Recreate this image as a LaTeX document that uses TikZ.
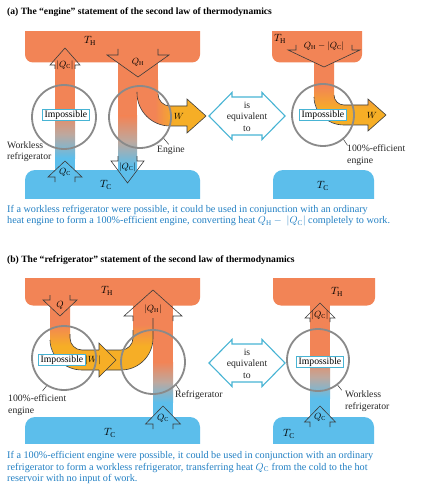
\documentclass[tikz,border=0pt]{standalone}
\usepackage{fix-cm}
\usepackage{fontspec}
\setmainfont{Liberation Serif}
\definecolor{hotC}{RGB}{242,132,86}
\definecolor{coldC}{RGB}{92,190,235}
\definecolor{wC}{RGB}{246,174,38}
\definecolor{midC}{RGB}{190,168,158}
\definecolor{ringC}{RGB}{138,138,138}
\definecolor{cyanC}{RGB}{72,180,212}
\definecolor{capC}{RGB}{34,128,196}
\definecolor{lineC}{RGB}{60,60,60}
\pgfdeclarehorizontalshading{wshadeL}{100bp}{color(0bp)=(hotC); color(38bp)=(hotC); color(52bp)=(wC); color(100bp)=(wC)}
\pgfdeclareverticalshading{wshadeA}{100bp}{color(0bp)=(wC); color(40bp)=(wC); color(57bp)=(hotC); color(100bp)=(hotC)}
\pgfdeclareverticalshading{wshadeB}{100bp}{color(0bp)=(wC); color(43bp)=(wC); color(59bp)=(hotC); color(100bp)=(hotC)}
\newcommand\lblfont{\fontsize{9.7}{11.5}\selectfont}
\newcommand\mlblfont{\fontsize{9}{10}\selectfont}
\newcommand\tlblfont{\fontsize{10.5}{12}\selectfont}
\newcommand\capfont{\fontsize{10.2}{11.3}\selectfont}
\newcommand\ttlfont{\fontsize{9.6}{11}\selectfont\bfseries}
\newcommand\myhead[6]{\draw[headln] (#1-#5,#6) -- (#1-#5,#2) -- (#1-#4,#2) -- (#1,#3) -- (#1+#4,#2) -- (#1+#5,#2) -- (#1+#5,#6);}
\newcommand\eqarrow[1]{\draw[eqv] (209,#1) -- (232,#1-23.5) -- (232,#1-19) -- (262,#1-19) -- (262,#1-23.5) -- (285,#1) -- (262,#1+23.5) -- (262,#1+19) -- (232,#1+19) -- (232,#1+23.5) -- cycle;}
\tikzset{
 headln/.style={draw=lineC, line width=0.6pt, line join=miter},
 wln/.style={draw=lineC, line width=0.6pt},
 ring/.style={circle, draw=ringC, line width=1.8pt, inner sep=0pt},
 imp/.style={draw=cyanC, fill=white, line width=0.6pt, inner xsep=2pt, inner ysep=1.2pt, font=\lblfont},
 lbl/.style={font=\lblfont, inner sep=0pt, text=black!85},
 mlbl/.style={font=\mlblfont, inner sep=0pt},
 tlbl/.style={font=\tlblfont, inner sep=0pt},
 captxt/.style={font=\capfont, text=capC, inner sep=0pt, align=left},
 ttl/.style={font=\ttlfont, inner sep=0pt},
 eqv/.style={draw=cyanC, fill=white, line width=1.1pt, line join=miter},
 leader/.style={draw=black!80, line width=0.5pt},
}
\begin{document}
\begin{tikzpicture}[x=1pt,y=-1pt]
\useasboundingbox (0,0) rectangle (421,497);
\fill[white] (0,0) rectangle (421,497);

% ================= PANEL (a) =================
\node[ttl, anchor=west] (ttlA) at (7,12) {(a) The “engine” statement of the second law of thermodynamics};

% --- left: reservoirs
\begin{scope}\clip (25,32) rectangle (200,62.5);
\fill[hotC, rounded corners=8pt] (25,20) rectangle (200,62.5);\end{scope}
\begin{scope}\clip (25,170) rectangle (200,198);
\fill[coldC, rounded corners=10pt] (25,170) rectangle (200,210);\end{scope}

% workless refrigerator column
\fill[hotC] (55,60) rectangle (75,110);
\shade[top color=hotC, bottom color=coldC, middle color=midC] (55,110) rectangle (75,158);
\fill[coldC] (55,158) rectangle (75,172);

% engine column
\fill[hotC] (118,60) rectangle (158,81);
\fill[hotC] (118,80) rectangle (137,116);
\shade[top color=hotC, bottom color=coldC, middle color=midC] (118,116) rectangle (137,166);
\fill[coldC] (118,166) rectangle (137,172);
\shade[shading=wshadeL] (137,80) -- (137,93) .. controls (137,111.2) and (151.8,126) .. (170,126) -- (187,126) -- (187,133) -- (206,116) -- (187,99) -- (187,106) -- (170,106) .. controls (163.4,106) and (158,100.6) .. (158,94) -- (158,80) -- cycle;
\draw[wln] (137,92) -- (137,93) .. controls (137,111.2) and (151.8,126) .. (170,126) -- (187,126) -- (187,133) -- (206,116) -- (187,99) -- (187,106) -- (170,106) .. controls (163.4,106) and (158,100.6) .. (158,94);

% arrow heads
\myhead{138}{55}{77}{31}{20}{49}
\myhead{65}{65}{48}{15}{10}{69}
\myhead{127.5}{161}{183}{16.5}{9.5}{156}
\myhead{65}{177}{161}{17}{10}{182}

\node[mlbl] (qhA) at (138,62) {$Q_{\mathrm{H}}$};
\node[mlbl] (qcA1) at (65,65) {$|Q_{\mathrm{C}}|$};
\node[mlbl] (qcA2) at (127.5,167) {$|Q_{\mathrm{C}}|$};
\node[mlbl] (qcA3) at (65,172) {$Q_{\mathrm{C}}$};
\node[mlbl] (wA) at (179,116) {$W$};
\node[tlbl] (thA) at (90,41) {$T_{\mathrm{H}}$};
\node[tlbl] (tcA) at (106,185) {$T_{\mathrm{C}}$};

\node[ring, minimum size=64pt] (cA1) at (64,117) {};
\node[ring, minimum size=62pt] (cA2) at (140,117) {};
\node[imp] (impA1) at (66,115) {Impossible};

\node[lbl, anchor=west, align=left] (wrA) at (7,151.5) {Workless\\refrigerator};
\node[lbl, anchor=west] (engA) at (157,150) {Engine};
\draw[leader] (cA2.-42) -- ++(5,6);

% --- middle
\eqarrow{116}
\node[lbl, align=center] (eqA) at (247,116.5) {is\\equivalent\\to};

% --- right
\begin{scope}\clip (272,32) rectangle (362,62.5);
\fill[hotC, rounded corners=8pt] (272,20) rectangle (362,62.5);\end{scope}
\begin{scope}\clip (273,170) rectangle (374,198);
\fill[coldC, rounded corners=10pt] (273,170) rectangle (374,210);\end{scope}
\shade[shading=wshadeA] (314,60) -- (314,95) .. controls (314,111.6) and (327.4,125) .. (344,125) -- (368,125) -- (368,131) -- (386,115) -- (368,99) -- (368,105) -- (344,105) .. controls (338.5,105) and (334,100.5) .. (334,95) -- (334,60) -- cycle;
\draw[wln] (314,97) .. controls (314,112.5) and (327.4,125) .. (344,125) -- (368,125) -- (368,131) -- (386,115) -- (368,99) -- (368,105) -- (344,105) .. controls (338.5,105) and (334,100.5) .. (334,95);
\myhead{324}{50}{67}{36}{28}{45}
\node[mlbl] (qhcA) at (324,46.5) {$Q_{\mathrm{H}} - |Q_{\mathrm{C}}|$};
\node[tlbl] (thA2) at (280,39) {$T_{\mathrm{H}}$};
\node[tlbl] (tcA2) at (323,186) {$T_{\mathrm{C}}$};
\node[mlbl] (wA2) at (372,115) {$W$};
\node[ring, minimum size=62pt] (cA3) at (323,115) {};
\node[imp] (impA2) at (323,115) {Impossible};
\node[lbl, anchor=west, align=left] (effA) at (347,155) {100\%-efficient\\engine};
\draw[leader] (cA3.-50) -- ++(4,6);

\node[captxt, anchor=north west] (capA) at (7,205) {If a workless refrigerator were possible, it could be used in conjunction with an ordinary\\heat engine to form a 100\%-efficient engine, converting heat $Q_{\mathrm{H}} -\ |Q_{\mathrm{C}}|$ completely to work.};

% ================= PANEL (b) =================
\node[ttl, anchor=west] (ttlB) at (7,260) {(b) The “refrigerator” statement of the second law of thermodynamics};

\begin{scope}\clip (25,278) rectangle (200,305.5);
\fill[hotC, rounded corners=8pt] (25,266) rectangle (200,305.5);\end{scope}
\begin{scope}\clip (25,417) rectangle (200,443);
\fill[coldC, rounded corners=10pt] (25,417) rectangle (200,455);\end{scope}

% refrigerator cold part
\fill[hotC] (153,303) rectangle (173,362);
\shade[top color=hotC, bottom color=coldC, middle color=midC] (153,362) rectangle (173,402);
\fill[coldC] (153,402) rectangle (173,419);
% engine + work band
\shade[shading=wshadeB] (50,303) -- (50,338) .. controls (50,355.7) and (64.3,370) .. (82,370) -- (121,370) .. controls (138.7,370) and (153,355.7) .. (153,338) -- (153,303) -- (133,303) -- (133,338) .. controls (133,344.6) and (127.6,350) .. (121,350) -- (82,350) .. controls (75.4,350) and (70,344.6) .. (70,338) -- (70,303) -- cycle;
\draw[wln] (153,318) -- (153,338) .. controls (153,355.7) and (138.7,370) .. (121,370) -- (82,370) .. controls (64.3,370) and (50,355.7) .. (50,340);
\draw[wln] (70,334) -- (70,338) .. controls (70,344.6) and (75.4,350) .. (82,350) -- (121,350) .. controls (127.6,350) and (133,344.6) .. (133,338) -- (133,330);
\filldraw[fill=wC, draw=lineC, line width=0.6pt, line join=miter] (99,350) -- (99,343) -- (116,360) -- (99,377) -- (99,370);

\myhead{60}{300}{316}{17}{10}{295}
\myhead{153}{316}{290}{29}{20}{321}
\myhead{163}{424}{406}{17.5}{10}{429}

\node[mlbl] (qB) at (60,305) {$Q$};
\node[mlbl] (qhB) at (153,309) {$|Q_{\mathrm{H}}|$};
\node[mlbl] (qcB) at (163,418) {$Q_{\mathrm{C}}$};
\node[mlbl] (wB) at (93,360) {$|W|$};
\node[tlbl] (thB) at (107,291) {$T_{\mathrm{H}}$};
\node[tlbl] (tcB) at (110,433) {$T_{\mathrm{C}}$};

\node[ring, minimum size=64pt] (cB1) at (64,358) {};
\node[ring, minimum size=64pt] (cB2) at (153,362) {};
\node[imp] (impB1) at (62,360) {Impossible};
\node[lbl, anchor=west, align=left] (effB) at (8,405) {100\%-efficient\\engine};
\draw[leader] (cB1.-122) -- ++(-4,5);
\node[lbl, anchor=west] (refB) at (175,395) {Refrigerator};
\draw[leader] (cB2.-45) -- ++(4,6);

% middle
\eqarrow{363}
\node[lbl, align=center] (eqB) at (247,363.5) {is\\equivalent\\to};

% right
\begin{scope}\clip (273,278) rectangle (375,305.5);
\fill[hotC, rounded corners=8pt] (273,266) rectangle (375,305.5);\end{scope}
\begin{scope}\clip (273,417) rectangle (374,443);
\fill[coldC, rounded corners=10pt] (273,417) rectangle (374,455);\end{scope}
\fill[hotC] (310,303) rectangle (330,356);
\shade[top color=hotC, bottom color=coldC, middle color=midC] (310,356) rectangle (330,398);
\fill[coldC] (310,398) rectangle (330,419);
\myhead{320}{318}{303}{15}{10}{322}
\myhead{320}{422}{406}{15.5}{10}{427}
\node[mlbl] (qcB2) at (320,315) {$|Q_{\mathrm{C}}|$};
\node[mlbl] (qcB3) at (320,417) {$Q_{\mathrm{C}}$};
\node[tlbl] (thB2) at (337,292) {$T_{\mathrm{H}}$};
\node[tlbl] (tcB2) at (289,434) {$T_{\mathrm{C}}$};
\node[ring, minimum size=62pt] (cB3) at (318,360) {};
\node[imp] (impB2) at (320,362) {Impossible};
\node[lbl, anchor=west, align=left] (wrB) at (345,401) {Workless\\refrigerator};
\draw[leader] (cB3.-52) -- ++(4,5);

\node[captxt, anchor=north west] (capB) at (7,451.5) {If a 100\%-efficient engine were possible, it could be used in conjunction with an ordinary\\refrigerator to form a workless refrigerator, transferring heat $Q_{\mathrm{C}}$ from the cold to the hot\\reservoir with no input of work.};
\end{tikzpicture}
\end{document}
